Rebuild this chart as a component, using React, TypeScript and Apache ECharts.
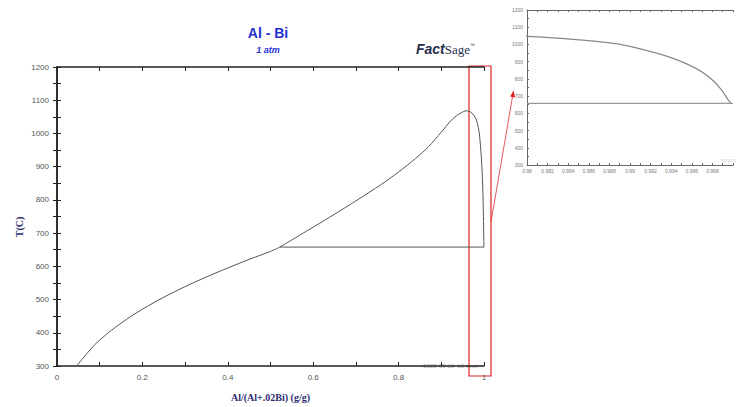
import React, { useEffect, useRef } from "react";
import * as echarts from "echarts";

// Liquidus (left branch, down to 300 C), x = Al/(Al+.02Bi), T in C
const leftX = [0.046, 0.06, 0.075, 0.089, 0.1, 0.12, 0.15, 0.175, 0.2, 0.25, 0.3, 0.35, 0.4, 0.45, 0.5, 0.522];
const leftT = [300, 322, 345, 365, 378, 400, 429, 451, 471, 507, 539, 568, 595, 621, 645, 658];

// Miscibility gap branch right of the monotectic point
const rightX = [0.522, 0.6, 0.65, 0.7, 0.76, 0.8, 0.84, 0.87, 0.9, 0.92, 0.935, 0.948, 0.958, 0.965, 0.972, 0.98, 0.9845, 0.9884, 0.9908, 0.9939, 0.9964, 0.998, 0.9989, 0.9995, 0.9998];
const rightT = [658, 718, 757, 797, 847, 884, 925, 960, 1004, 1035, 1053, 1063, 1068, 1067, 1061, 1047, 1030, 1006, 977, 925, 861, 794, 735, 681, 658];

// Monotectic horizontal
const monoX = [0.522, 1.0];
const monoT = [658, 658];
const insetMonoX = [0.98, 1.0];

const mainXTicks = [0, 1, 0.2];
const mainYTicks = [300, 1200, 100];
const insetXTicks = [0.98, 1.0, 0.002];

const pairs = (xs: number[], ys: number[]) => xs.map((x, i) => [x, ys[i]]);

export default function App() {
  const ref = useRef<HTMLDivElement>(null);
  useEffect(() => {
    if (!ref.current) return;
    const chart = echarts.init(ref.current, null, { renderer: "svg" });
    const labelFont = { color: "#555", fontSize: 8, fontFamily: "Arial, Liberation Sans, sans-serif" };
    const insetFont = { color: "#777", fontSize: 5, fontFamily: "Arial, Liberation Sans, sans-serif" };
    const mainLine = { show: true, lineStyle: { color: "#222", width: 1.5 } };
    const insetLine = { show: true, lineStyle: { color: "#666", width: 1 } };
    const nameStyle = { color: "#2b2b6e", fontSize: 10, fontWeight: "bold" as const, fontFamily: "Liberation Serif, serif" };
    const plain = (v: number) => String(v);

    const option: any = {
      animation: false,
      grid: [
        { left: 57, top: 67, width: 427, height: 305 },
        { left: 527, top: 10, width: 213, height: 155 },
      ],
      xAxis: [
        {
          gridIndex: 0, type: "value", min: mainXTicks[0], max: mainXTicks[1], interval: mainXTicks[2], position: "bottom",
          axisLine: mainLine, axisTick: { inside: true, length: 4, lineStyle: { color: "#222" } },
          minorTick: { show: true, splitNumber: 2, length: 4, lineStyle: { color: "#222" } },
          splitLine: { show: false }, minorSplitLine: { show: false },
          axisLabel: { ...labelFont, margin: 7, formatter: (v: number) => String(+v.toFixed(2)) },
          name: "Al/(Al+.02Bi) (g/g)", nameLocation: "middle", nameGap: 26, nameTextStyle: nameStyle,
        },
        {
          gridIndex: 0, type: "value", min: mainXTicks[0], max: mainXTicks[1], interval: mainXTicks[2], position: "top",
          axisLine: mainLine, axisTick: { inside: true, length: 4, lineStyle: { color: "#222" } },
          minorTick: { show: true, splitNumber: 2, length: 4, lineStyle: { color: "#222" } },
          splitLine: { show: false }, axisLabel: { show: false },
        },
        {
          gridIndex: 1, type: "value", min: insetXTicks[0], max: insetXTicks[1], interval: insetXTicks[2], position: "bottom",
          axisLine: insetLine, axisTick: { inside: true, length: 2, lineStyle: { color: "#666" } },
          minorTick: { show: true, splitNumber: 2, length: 2, lineStyle: { color: "#666" } },
          splitLine: { show: false },
          axisLabel: { ...insetFont, margin: 3, formatter: (v: number) => (v >= 0.9999 ? "" : String(+v.toFixed(3))) },
        },
        {
          gridIndex: 1, type: "value", min: insetXTicks[0], max: insetXTicks[1], interval: insetXTicks[2], position: "top",
          axisLine: insetLine, axisTick: { inside: true, length: 2, lineStyle: { color: "#666" } },
          minorTick: { show: true, splitNumber: 2, length: 2, lineStyle: { color: "#666" } },
          splitLine: { show: false }, axisLabel: { show: false },
        },
      ],
      yAxis: [
        {
          gridIndex: 0, type: "value", min: mainYTicks[0], max: mainYTicks[1], interval: mainYTicks[2], position: "left",
          axisLine: mainLine, axisTick: { inside: true, length: 4, lineStyle: { color: "#222" } },
          minorTick: { show: true, splitNumber: 2, length: 4, lineStyle: { color: "#222" } },
          splitLine: { show: false }, minorSplitLine: { show: false },
          axisLabel: { ...labelFont, margin: 8, formatter: plain },
        },
        {
          gridIndex: 0, type: "value", min: mainYTicks[0], max: mainYTicks[1], interval: mainYTicks[2], position: "right",
          axisLine: mainLine, axisTick: { inside: true, length: 4, lineStyle: { color: "#222" } },
          minorTick: { show: true, splitNumber: 2, length: 4, lineStyle: { color: "#222" } },
          splitLine: { show: false }, axisLabel: { show: false },
        },
        {
          gridIndex: 1, type: "value", min: mainYTicks[0], max: mainYTicks[1], interval: mainYTicks[2], position: "left",
          axisLine: insetLine, axisTick: { inside: true, length: 2, lineStyle: { color: "#666" } },
          minorTick: { show: true, splitNumber: 2, length: 2, lineStyle: { color: "#666" } },
          splitLine: { show: false },
          axisLabel: { ...insetFont, margin: 4, formatter: plain },
        },
      ],
      series: [
        { type: "line", xAxisIndex: 0, yAxisIndex: 0, data: pairs(leftX, leftT), showSymbol: false, smooth: 0.3, lineStyle: { color: "#555", width: 1 }, silent: true },
        { type: "line", xAxisIndex: 0, yAxisIndex: 0, data: pairs(rightX, rightT), showSymbol: false, smooth: 0.3, lineStyle: { color: "#555", width: 1 }, silent: true },
        { type: "line", xAxisIndex: 0, yAxisIndex: 0, data: pairs(monoX, monoT), showSymbol: false, lineStyle: { color: "#555", width: 1 }, silent: true },
        { type: "line", xAxisIndex: 2, yAxisIndex: 2, data: pairs(rightX, rightT), showSymbol: false, smooth: 0.3, clip: true, lineStyle: { color: "#888", width: 1.2 }, silent: true },
        { type: "line", xAxisIndex: 2, yAxisIndex: 2, data: pairs(insetMonoX, monoT), showSymbol: false, clip: true, lineStyle: { color: "#999", width: 1.2 }, silent: true },
      ],
      graphic: [
        { type: "text", x: 268, y: 33, style: { text: "Al - Bi", fill: "#1f2fd0", font: "bold 14px Arial, Liberation Sans, sans-serif", align: "center", verticalAlign: "middle" } },
        { type: "text", x: 268, y: 50, style: { text: "1 atm", fill: "#1f2fd0", font: "italic bold 9px Arial, Liberation Sans, sans-serif", align: "center", verticalAlign: "middle" } },
        { type: "text", x: 19, y: 227, rotation: Math.PI / 2, style: { text: "T(C)", fill: "#2b2b6e", font: "bold 10px Liberation Serif, serif", align: "center", verticalAlign: "middle" } },
        { type: "text", x: 416, y: 49, style: { text: "{a|Fact}{b|Sage}{c|™}", verticalAlign: "middle", rich: {
          a: { fill: "#27304f", font: "italic bold 14px Arial, Liberation Sans, sans-serif" },
          b: { fill: "#27304f", font: "13px Liberation Serif, serif" },
          c: { fill: "#27304f", font: "5px Arial, sans-serif", verticalAlign: "top" },
        } } },
        { type: "text", x: 478, y: 366, style: { text: "2022-05-12  12 secs", fill: "#aaa", font: "6px Arial, Liberation Sans, sans-serif", align: "right", verticalAlign: "middle" } },
        { type: "text", x: 736, y: 161, style: { text: "2022-05-12", fill: "#bbb", font: "3px Arial, sans-serif", align: "right", verticalAlign: "middle" } },
        { type: "rect", shape: { x: 469, y: 66, width: 22, height: 310 }, style: { fill: "none", stroke: "#e02020", lineWidth: 1.2 } },
        { type: "line", shape: { x1: 491, y1: 222, x2: 512.8, y2: 95 }, style: { stroke: "#e03030", lineWidth: 0.8 } },
        { type: "polygon", shape: { points: [[513.5, 90.5], [515.2, 97.4], [510.2, 96.6]] }, style: { fill: "#e02020" } },
      ],
    };
    chart.setOption(option);
    return () => chart.dispose();
  }, []);
  return <div ref={ref} style={{ position: "absolute", left: 0, top: 0, width: 736, height: 407, background: "#fff" }} />;
}
